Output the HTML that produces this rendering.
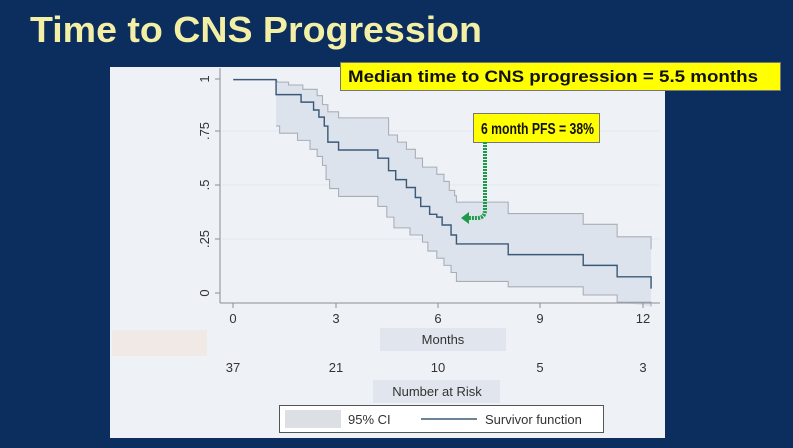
<!DOCTYPE html>
<html><head><meta charset="utf-8"><style>
html,body{margin:0;padding:0;background:#0b2e5e;}
svg{display:block;font-family:"Liberation Sans",Arial,sans-serif;}
</style></head><body>
<svg width="793" height="448" viewBox="0 0 793 448" xmlns="http://www.w3.org/2000/svg">
<rect width="793" height="448" fill="#0b2e5e"/>
<text x="30" y="42" font-size="36" font-weight="bold" fill="#f3f0a6" textLength="452" lengthAdjust="spacingAndGlyphs">Time to CNS Progression</text>
<rect x="110" y="67" width="555" height="371" fill="#eef2f7"/>
<rect x="112" y="330" width="95" height="26" fill="#f1e9e6"/>
<g stroke="#e2e8ef" stroke-width="1">
<line x1="222" y1="131" x2="660" y2="131"/><line x1="222" y1="185" x2="660" y2="185"/><line x1="222" y1="239" x2="660" y2="239"/>
</g>
<g transform="translate(110,60) scale(0.35714)">
<path fill="#dde3ec" stroke="none" d="M465,55 L470,62 L500,62 L500,70 L540,70 L540,82 L580,82 L580,100 L595,100 L595,125 L610,125 L610,145 L640,145 L640,162 L780,162 L780,210 L805,210 L805,230 L830,230 L830,250 L855,250 L855,275 L875,275 L875,300 L915,300 L915,320 L935,320 L935,340 L950,340 L950,365 L965,365 L965,380 L970,380 L970,398 L1115,398 L1115,430 L1325,430 L1325,460 L1420,460 L1420,495 L1515,495 L1515,690 L1420,678 L1420,658 L1325,658 L1325,635 L1115,635 L1115,620 L970,620 L970,595 L955,595 L955,575 L935,575 L935,555 L915,555 L915,535 L890,535 L890,510 L875,510 L875,490 L840,490 L840,470 L795,470 L795,440 L775,440 L775,410 L750,410 L750,382 L640,382 L640,360 L615,360 L615,335 L605,335 L605,295 L595,295 L595,270 L580,270 L580,250 L560,250 L560,225 L525,225 L525,205 L475,205 L475,185 L465,185 Z"/>
<path fill="none" stroke="#a9aeb5" stroke-width="3" d="M465,55 L470,62 L500,62 L500,70 L540,70 L540,82 L580,82 L580,100 L595,100 L595,125 L610,125 L610,145 L640,145 L640,162 L780,162 L780,210 L805,210 L805,230 L830,230 L830,250 L855,250 L855,275 L875,275 L875,300 L915,300 L915,320 L935,320 L935,340 L950,340 L950,365 L965,365 L965,380 L970,380 L970,398 L1115,398 L1115,430 L1325,430 L1325,460 L1420,460 L1420,495 L1515,495 L1515,530"/>
<path fill="none" stroke="#a9aeb5" stroke-width="3" d="M465,185 L475,185 L475,205 L525,205 L525,225 L560,225 L560,250 L580,250 L580,270 L595,270 L595,295 L605,295 L605,335 L615,335 L615,360 L640,360 L640,382 L750,382 L750,410 L775,410 L775,440 L795,440 L795,470 L840,470 L840,490 L875,490 L875,510 L890,510 L890,535 L915,535 L915,555 L935,555 L935,575 L955,575 L955,595 L970,595 L970,620 L1115,620 L1115,635 L1325,635 L1325,658 L1420,658 L1420,678 L1515,678 L1515,690"/>
<path fill="none" stroke="#3c5a78" stroke-width="4" d="M345,55 L465,55 L465,97 L535,97 L535,118 L570,118 L570,140 L585,140 L585,160 L600,160 L600,185 L610,185 L610,230 L640,230 L640,252 L750,252 L750,275 L780,275 L780,310 L800,310 L800,335 L830,335 L830,357 L855,357 L855,385 L870,385 L870,410 L895,410 L895,432 L915,432 L915,440 L930,440 L930,462 L955,462 L955,490 L970,490 L970,515 L1115,515 L1115,545 L1325,545 L1325,575 L1420,575 L1420,607 L1515,607 L1515,640"/>
</g>
<g stroke="#8a8f96" stroke-width="1" fill="none">
<line x1="220" y1="68" x2="220" y2="303"/>
<line x1="220" y1="303" x2="660" y2="303"/>
<line x1="215" y1="79" x2="220" y2="79"/><line x1="215" y1="131" x2="220" y2="131"/><line x1="215" y1="185" x2="220" y2="185"/><line x1="215" y1="239" x2="220" y2="239"/><line x1="215" y1="293" x2="220" y2="293"/>
<line x1="233" y1="303" x2="233" y2="308"/><line x1="336" y1="303" x2="336" y2="308"/><line x1="438" y1="303" x2="438" y2="308"/><line x1="540" y1="303" x2="540" y2="308"/><line x1="643" y1="303" x2="643" y2="308"/>
</g>
<g font-size="13" fill="#333" text-anchor="middle">
<text transform="translate(209,79) rotate(-90)">1</text>
<text transform="translate(209,131) rotate(-90)">.75</text>
<text transform="translate(209,185) rotate(-90)">.5</text>
<text transform="translate(209,239) rotate(-90)">.25</text>
<text transform="translate(209,293) rotate(-90)">0</text>
<text x="233" y="323">0</text><text x="336" y="323">3</text><text x="438" y="323">6</text><text x="540" y="323">9</text><text x="643" y="323">12</text>
</g>
<rect x="380" y="328" width="126" height="23" fill="#e1e6ee"/>
<text x="443" y="344" font-size="13" fill="#333" text-anchor="middle">Months</text>
<g font-size="13" fill="#333" text-anchor="middle">
<text x="233" y="372">37</text><text x="336" y="372">21</text><text x="438" y="372">10</text><text x="540" y="372">5</text><text x="643" y="372">3</text>
</g>
<rect x="373" y="380" width="127" height="23" fill="#e1e6ee"/>
<text x="437" y="396" font-size="13" fill="#333" text-anchor="middle">Number at Risk</text>
<rect x="279.5" y="405.5" width="324" height="27" fill="#fff" stroke="#555"/>
<rect x="285" y="410" width="56" height="18" fill="#dcdfe4"/>
<text x="348" y="424" font-size="13" fill="#333">95% CI</text>
<line x1="421" y1="419" x2="477" y2="419" stroke="#3c5a78" stroke-width="1.5"/>
<text x="485" y="424" font-size="13" fill="#333">Survivor function</text>
<rect x="340.5" y="62.5" width="440" height="28" fill="#ffff00" stroke="#777"/>
<text x="348" y="82" font-size="17" font-weight="bold" fill="#111" textLength="410" lengthAdjust="spacingAndGlyphs">Median time to CNS progression = 5.5 months</text>
<rect x="473.5" y="113.5" width="126" height="29" fill="#ffff00" stroke="#777"/>
<text x="481" y="134" font-size="16" font-weight="bold" fill="#111" textLength="113" lengthAdjust="spacingAndGlyphs">6 month PFS = 38%</text>
<path d="M485,142 L485,210 Q485,218 477,218 L468,218" fill="none" stroke="#1f9a4a" stroke-width="4" stroke-dasharray="2,1"/>
<polygon points="461,218 469,212 469,224" fill="#1f9a4a"/>
</svg>
</body></html>
